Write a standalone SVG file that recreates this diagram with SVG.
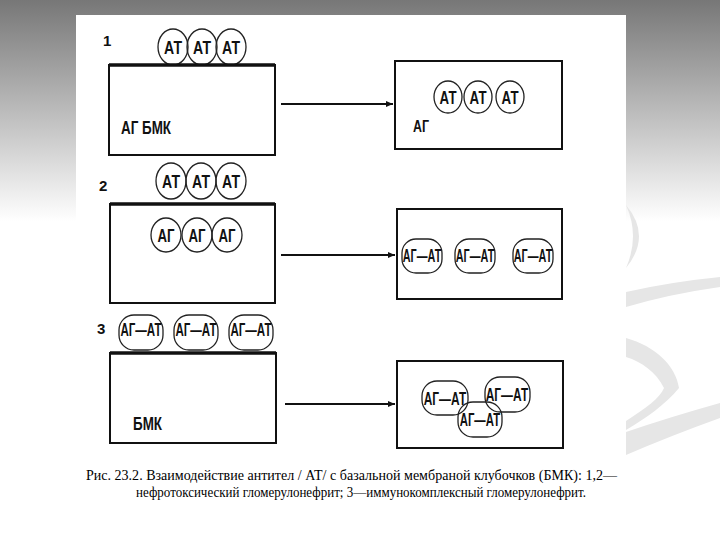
<svg xmlns="http://www.w3.org/2000/svg" width="720" height="540" viewBox="0 0 720 540">
<defs>
<linearGradient id="bg" x1="0" y1="0" x2="0" y2="1">
<stop offset="0" stop-color="#777777"/>
<stop offset="0.41" stop-color="#ffffff"/>
<stop offset="1" stop-color="#ffffff"/>
</linearGradient>
<marker id="ah" markerWidth="8" markerHeight="8" refX="7" refY="4" orient="auto" markerUnits="userSpaceOnUse">
<path d="M0,1 L7,4 L0,7 Z" fill="#111"/>
</marker>
<style>
.box{fill:none;stroke:#111;stroke-width:2}
.top{stroke:#111;stroke-width:3.5}
.ov{fill:none;stroke:#222;stroke-width:1.3}
.lb{font-family:"Liberation Sans",Arial,sans-serif;font-weight:bold;fill:#111;text-anchor:middle}
.lt{font-family:"Liberation Sans",Arial,sans-serif;font-weight:bold;fill:#111}
.num{font-family:"Liberation Sans",Arial,sans-serif;font-weight:bold;font-size:15px;fill:#111}
.cap{font-family:"Liberation Serif","Times New Roman",serif;font-size:14.5px;fill:#000}
.arr{stroke:#111;stroke-width:2;fill:none}
.sw{fill:#e6e6e6}
</style>
</defs>
<rect x="0" y="0" width="720" height="540" fill="url(#bg)"/>
<path class="sw" d="M626,205 Q652,236 626,268 Q640,236 626,205 Z"/>
<path class="sw" d="M626,292 Q670,282 720,277 L720,287 Q670,294 626,307 Z"/>
<path class="sw" d="M626,338 C655,346 676,366 679,388 C665,405 646,418 626,430 L626,421 C646,408 660,398 664,388 C656,372 642,362 626,357 Z"/>
<path class="sw" d="M626,432 Q670,417 720,403 L720,418 Q670,436 626,455 Z"/>
<rect x="76" y="15" width="550" height="525" fill="#ffffff"/>

<g id="connectors">
<line class="arr" x1="281" y1="104" x2="393" y2="104" marker-end="url(#ah)" stroke-width="2.4"/>
<line class="arr" x1="281" y1="255" x2="395" y2="255" marker-end="url(#ah)" stroke-width="1.6"/>
<line class="arr" x1="285" y1="404" x2="395" y2="404" marker-end="url(#ah)" stroke-width="1.6"/>
</g>

<g id="label-1"><text class="num" x="103" y="46">1</text></g>
<g id="label-2"><text class="num" x="99" y="191">2</text></g>
<g id="label-3"><text class="num" x="97" y="334">3</text></g>

<g id="at-row-1">
<ellipse class="ov" cx="173" cy="47" rx="15" ry="18"/>
<ellipse class="ov" cx="202" cy="47" rx="15" ry="18"/>
<ellipse class="ov" cx="231" cy="47" rx="15" ry="18"/>
<text class="lb" x="173" y="54" font-size="18" textLength="18" lengthAdjust="spacingAndGlyphs">АТ</text>
<text class="lb" x="202" y="54" font-size="18" textLength="18" lengthAdjust="spacingAndGlyphs">АТ</text>
<text class="lb" x="231" y="54" font-size="18" textLength="18" lengthAdjust="spacingAndGlyphs">АТ</text>
</g>
<g id="gbm-1">
<rect class="box" x="109" y="65" width="166" height="90"/>
<line class="top" x1="109" y1="65" x2="275" y2="65"/>
<text class="lt" x="121" y="134" font-size="18" textLength="50" lengthAdjust="spacingAndGlyphs">АГ БМК</text>
</g>
<g id="result-1">
<rect class="box" x="395" y="61" width="167" height="88"/>
<ellipse class="ov" cx="448" cy="97" rx="14" ry="16"/>
<ellipse class="ov" cx="478" cy="97" rx="14" ry="16"/>
<ellipse class="ov" cx="510" cy="97" rx="14" ry="16"/>
<text class="lb" x="448" y="104" font-size="18" textLength="17" lengthAdjust="spacingAndGlyphs">АТ</text>
<text class="lb" x="478" y="104" font-size="18" textLength="17" lengthAdjust="spacingAndGlyphs">АТ</text>
<text class="lb" x="510" y="104" font-size="18" textLength="17" lengthAdjust="spacingAndGlyphs">АТ</text>
<text class="lt" x="413" y="132" font-size="17" textLength="16" lengthAdjust="spacingAndGlyphs">АГ</text>
</g>

<g id="at-row-2">
<ellipse class="ov" cx="171" cy="181" rx="15" ry="18"/>
<ellipse class="ov" cx="201" cy="181" rx="15" ry="18"/>
<ellipse class="ov" cx="231" cy="181" rx="15" ry="18"/>
<text class="lb" x="171" y="188" font-size="18" textLength="18" lengthAdjust="spacingAndGlyphs">АТ</text>
<text class="lb" x="201" y="188" font-size="18" textLength="18" lengthAdjust="spacingAndGlyphs">АТ</text>
<text class="lb" x="231" y="188" font-size="18" textLength="18" lengthAdjust="spacingAndGlyphs">АТ</text>
</g>
<g id="gbm-2">
<rect class="box" x="110" y="204" width="165" height="99"/>
<line class="top" x1="110" y1="204" x2="275" y2="204"/>
<ellipse class="ov" cx="166" cy="235" rx="15" ry="17"/>
<ellipse class="ov" cx="197" cy="235" rx="15" ry="17"/>
<ellipse class="ov" cx="227" cy="235" rx="15" ry="17"/>
<text class="lb" x="166" y="242" font-size="18" textLength="17" lengthAdjust="spacingAndGlyphs">АГ</text>
<text class="lb" x="197" y="242" font-size="18" textLength="17" lengthAdjust="spacingAndGlyphs">АГ</text>
<text class="lb" x="227" y="242" font-size="18" textLength="17" lengthAdjust="spacingAndGlyphs">АГ</text>
</g>
<g id="result-2">
<rect class="box" x="397" y="209" width="165" height="90"/>
<rect class="ov" x="402" y="239" width="40" height="34" rx="14"/>
<rect class="ov" x="455" y="239" width="40" height="34" rx="14"/>
<rect class="ov" x="513" y="239" width="40" height="34" rx="14"/>
<text class="lb" font-size="18" transform="translate(422,262) scale(0.6,1)">АГ—АТ</text>
<text class="lb" font-size="18" transform="translate(475,262) scale(0.6,1)">АГ—АТ</text>
<text class="lb" font-size="18" transform="translate(533,262) scale(0.6,1)">АГ—АТ</text>
</g>

<g id="complex-row-3">
<rect class="ov" x="119" y="315" width="44" height="35" rx="15"/>
<rect class="ov" x="174" y="315" width="44" height="35" rx="15"/>
<rect class="ov" x="229" y="315" width="44" height="35" rx="15"/>
<text class="lb" font-size="18" transform="translate(141,336) scale(0.64,1)">АГ—АТ</text>
<text class="lb" font-size="18" transform="translate(196,336) scale(0.64,1)">АГ—АТ</text>
<text class="lb" font-size="18" transform="translate(251,336) scale(0.64,1)">АГ—АТ</text>
</g>
<g id="gbm-3">
<rect class="box" x="110" y="353" width="166" height="90"/>
<line class="top" x1="110" y1="353" x2="276" y2="353"/>
<text class="lt" x="133" y="430" font-size="18" textLength="29" lengthAdjust="spacingAndGlyphs">БМК</text>
</g>
<g id="result-3">
<rect class="box" x="397" y="361" width="166" height="87"/>
<rect class="ov" x="422" y="381" width="46" height="34" rx="15"/>
<rect class="ov" x="485" y="377" width="45" height="35" rx="15"/>
<rect class="ov" x="458" y="402" width="44" height="35" rx="15"/>
<text class="lb" font-size="18" transform="translate(445,405) scale(0.66,1)">АГ—АТ</text>
<text class="lb" font-size="18" transform="translate(507,401) scale(0.66,1)">АГ—АТ</text>
<text class="lb" font-size="18" transform="translate(480,426) scale(0.63,1)">АГ—АТ</text>
</g>

<g id="caption">
<text class="cap" x="86" y="480" textLength="531" lengthAdjust="spacingAndGlyphs">Рис. 23.2. Взаимодействие антител / АТ/ с базальной мембраной клубочков (БМК): 1,2—</text>
<text class="cap" x="136" y="497" textLength="450" lengthAdjust="spacingAndGlyphs">нефротоксический гломерулонефрит; 3—иммунокомплексный гломерулонефрит.</text>
</g>
</svg>
